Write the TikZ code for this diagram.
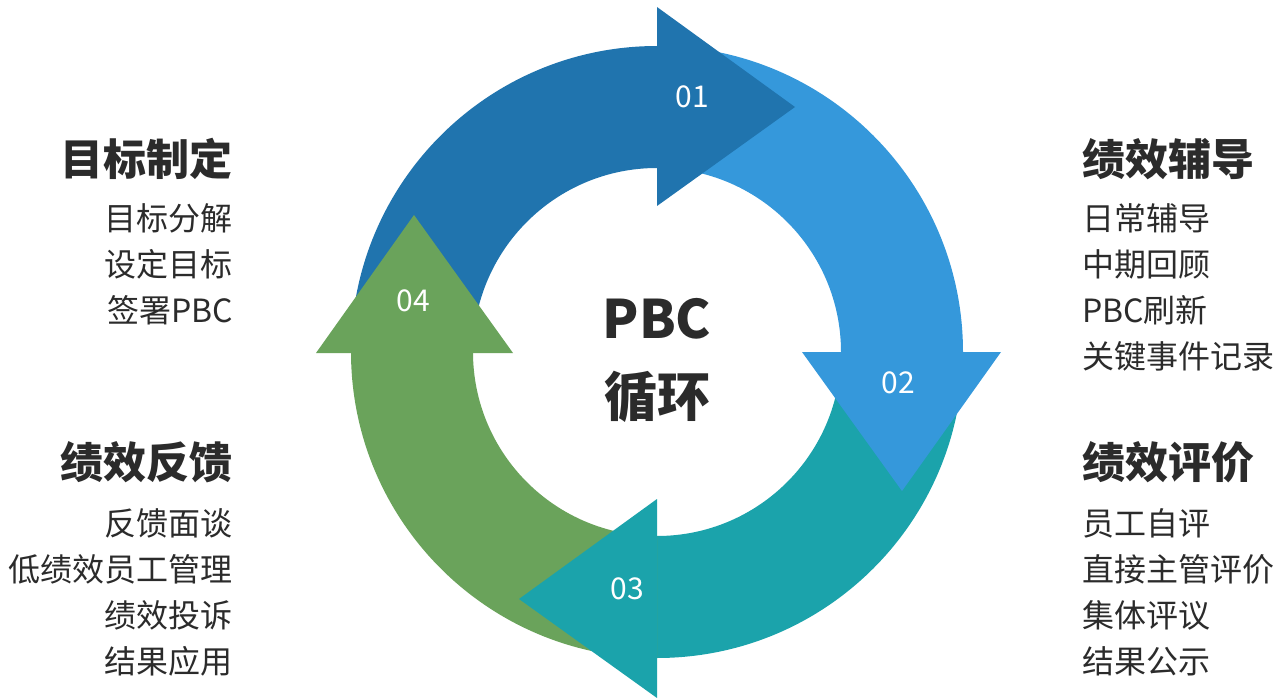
\documentclass[tikz,border=0pt]{standalone}
\usepackage{fontspec}
\setmainfont{Noto Sans CJK SC}
\definecolor{cA}{HTML}{2074AE}
\definecolor{cB}{HTML}{3598DB}
\definecolor{cC}{HTML}{1BA3AB}
\definecolor{cD}{HTML}{6AA35B}
\definecolor{txt}{HTML}{2B2B2B}
\begin{document}
\begin{tikzpicture}[x=1pt,y=1pt,
  head/.style={font=\fontsize{43}{43}\selectfont\bfseries, text=txt, inner sep=0pt},
  item/.style={font=\fontsize{32}{32}\selectfont, text=txt, inner sep=0pt},
  num/.style={font=\fontsize{30}{30}\selectfont, text=white, inner sep=0pt, anchor=base},
  ctr/.style={font=\fontsize{53}{53}\selectfont\bfseries, text=txt, inner sep=0pt, anchor=base}]
\useasboundingbox (0,0) rectangle (1278,-698);
\begin{scope}[shift={(657,-352)}]
  % ring segments
  \fill[cA] (180:306) arc[start angle=180,end angle=90,radius=306pt] -- (90:184) arc[start angle=90,end angle=180,radius=184pt] -- cycle;
  \fill[cB] (90:306) arc[start angle=90,end angle=0,radius=306pt] -- (0:184) arc[start angle=0,end angle=90,radius=184pt] -- cycle;
  \fill[cC] (0:306) arc[start angle=0,end angle=-90,radius=306pt] -- (-90:184) arc[start angle=-90,end angle=0,radius=184pt] -- cycle;
  \fill[cD] (-90:306) arc[start angle=-90,end angle=-180,radius=306pt] -- (-180:184) arc[start angle=-180,end angle=-90,radius=184pt] -- cycle;
  % arrowheads
  \fill[cA] (0,345) -- (0,146) -- (138,245) -- cycle;
  \fill[cB] (145,0) -- (344,0) -- (245,-139) -- cycle;
  \fill[cC] (0,-147) -- (0,-346) -- (-138,-247) -- cycle;
  \fill[cD] (-341,-1) -- (-144,-1) -- (-243,137) -- cycle;
\end{scope}
% numbers
\node[num] (n1) at (692,-107.5) {01};
\node[num] (n2) at (898,-393.5) {02};
\node[num] (n3) at (627,-599.5) {03};
\node[num] (n4) at (413,-311.5) {04};
% centre
\node[ctr] (c1) at (657,-338) {PBC};
\node[ctr] (c2) at (657,-416) {循环};
% left texts
\node[head,anchor=base east] (l1) at (233,-176) {目标制定};
\node[item,anchor=base east] (l11) at (233,-230) {目标分解};
\node[item,anchor=base east] (l12) at (233,-276) {设定目标};
\node[item,anchor=base east] (l13) at (233,-322) {签署PBC};
\node[head,anchor=base east] (l2) at (233,-478) {绩效反馈};
\node[item,anchor=base east] (l21) at (233,-535) {反馈面谈};
\node[item,anchor=base east] (l22) at (233,-581) {低绩效员工管理};
\node[item,anchor=base east] (l23) at (233,-627) {绩效投诉};
\node[item,anchor=base east] (l24) at (233,-673) {结果应用};
% right texts
\node[head,anchor=base west] (r1) at (1082,-176) {绩效辅导};
\node[item,anchor=base west] (r11) at (1082,-230) {日常辅导};
\node[item,anchor=base west] (r12) at (1082,-276) {中期回顾};
\node[item,anchor=base west] (r13) at (1082,-322) {PBC刷新};
\node[item,anchor=base west] (r14) at (1082,-368) {关键事件记录};
\node[head,anchor=base west] (r2) at (1082,-478) {绩效评价};
\node[item,anchor=base west] (r21) at (1082,-535) {员工自评};
\node[item,anchor=base west] (r22) at (1082,-581) {直接主管评价};
\node[item,anchor=base west] (r23) at (1082,-627) {集体评议};
\node[item,anchor=base west] (r24) at (1082,-673) {结果公示};
\end{tikzpicture}
\end{document}
